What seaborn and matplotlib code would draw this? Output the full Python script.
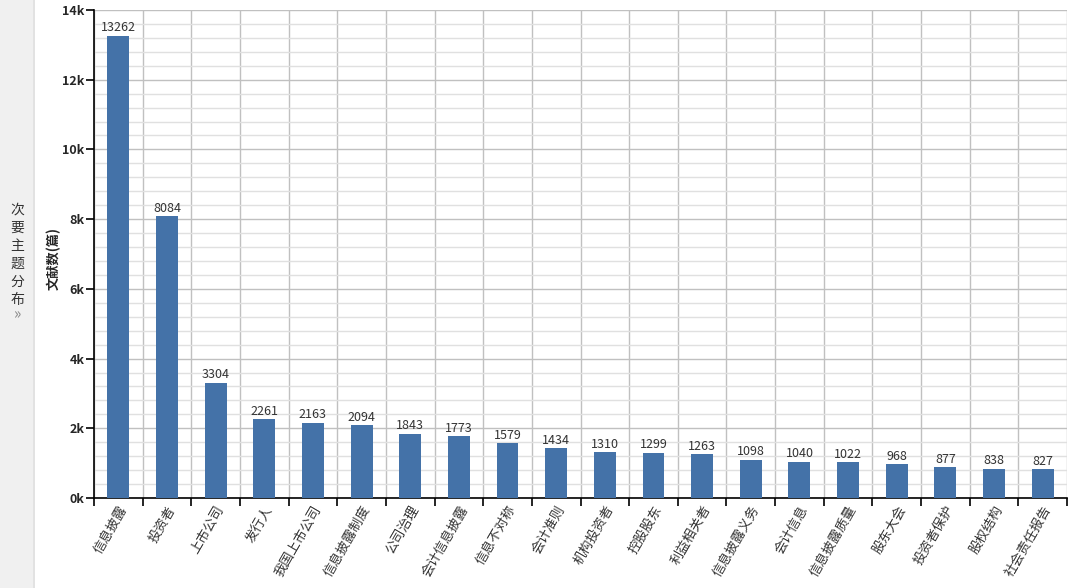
import numpy as np
import pandas as pd
import seaborn as sns
from matplotlib import pyplot as plt
from matplotlib.ticker import MultipleLocator, FuncFormatter
from matplotlib.patches import Rectangle

categories = ["信息披露", "投资者", "上市公司", "发行人", "我国上市公司", "信息披露制度",
              "公司治理", "会计信息披露", "信息不对称", "会计准则", "机构投资者", "控股股东",
              "利益相关者", "信息披露义务", "会计信息", "信息披露质量", "股东大会",
              "投资者保护", "股权结构", "社会责任报告"]
counts = [13262, 8084, 3304, 2261, 2163, 2094, 1843, 1773, 1579, 1434,
          1310, 1299, 1263, 1098, 1040, 1022, 968, 877, 838, 827]
sidebar_title = "次要主题分布"
y_label = "文献数(篇)"

sns.set_theme(style="white")
plt.rcParams['font.family'] = ['Noto Sans CJK SC', 'DejaVu Sans']

df = pd.DataFrame({"topic": categories, "count": counts})

fig = plt.figure(figsize=(10.69, 5.88), dpi=100)
ax = fig.add_axes([94 / 1069, 1 - 498 / 588, (1067 - 94) / 1069, (498 - 10) / 588])

sns.barplot(data=df, x="topic", y="count", color="#4472a8", saturation=1,
            width=0.45, linewidth=0, edgecolor="none", ax=ax, zorder=3)

ax.bar_label(ax.containers[0], labels=[str(c) for c in counts], padding=1,
             fontsize=9, color="#333333")

ax.set_xlim(-0.5, len(categories) - 0.5)
ax.set_ylim(0, 14000)
ax.yaxis.set_major_locator(MultipleLocator(2000))
ax.yaxis.set_minor_locator(MultipleLocator(400))
ax.yaxis.set_major_formatter(FuncFormatter(lambda v, p: f"{int(v / 1000)}k"))
ax.set_xticks(np.arange(-0.5, len(categories), 1.0), minor=True)

ax.grid(True, which="major", axis="y", color="#c0c0c0", linewidth=1, zorder=0)
ax.grid(True, which="minor", axis="y", color="#e0e0e0", linewidth=1, zorder=0)
ax.grid(True, which="minor", axis="x", color="#c0c0c0", linewidth=1, zorder=0)
ax.set_axisbelow(True)

for s in ["top", "right"]:
    ax.spines[s].set_visible(False)
for s in ["left", "bottom"]:
    ax.spines[s].set_color("black")
    ax.spines[s].set_linewidth(1.2)

ax.tick_params(axis="y", which="major", left=True, direction="out", length=6, width=1.2,
               color="black", pad=1, labelsize=9)
ax.tick_params(axis="y", which="minor", left=False, length=0)
ax.tick_params(axis="x", which="major", bottom=False, length=0, pad=4, labelsize=9.5)
ax.tick_params(axis="x", which="minor", bottom=True, direction="out", length=6, width=1.2,
               color="black")
for lab in ax.get_yticklabels():
    lab.set_fontweight("bold")
plt.setp(ax.get_xticklabels(), rotation=60, ha="right", rotation_mode="anchor", color="#333333")

ax.set_xlabel("")
ax.set_ylabel(y_label, fontsize=9.5, fontweight="bold")
ax.yaxis.set_label_coords(-0.034, 0.49)

# left collapsed sidebar
fig.patches.append(Rectangle((0, 0), 33 / 1069, 1, transform=fig.transFigure,
                             facecolor="#f0f0f0", edgecolor="none", zorder=0))
fig.patches.append(Rectangle((33 / 1069, 0), 2 / 1069, 1, transform=fig.transFigure,
                             facecolor="#e2e2e2", edgecolor="none", zorder=0))
for i, ch in enumerate(sidebar_title):
    fig.text(17 / 1069, 1 - (210 + i * 18) / 588, ch, ha="center", va="center",
             fontsize=10, color="#333333")
fig.text(17 / 1069, 1 - 315 / 588, "»", ha="center", va="center", fontsize=11, color="#888888")

plt.savefig("out.png", dpi=100)
